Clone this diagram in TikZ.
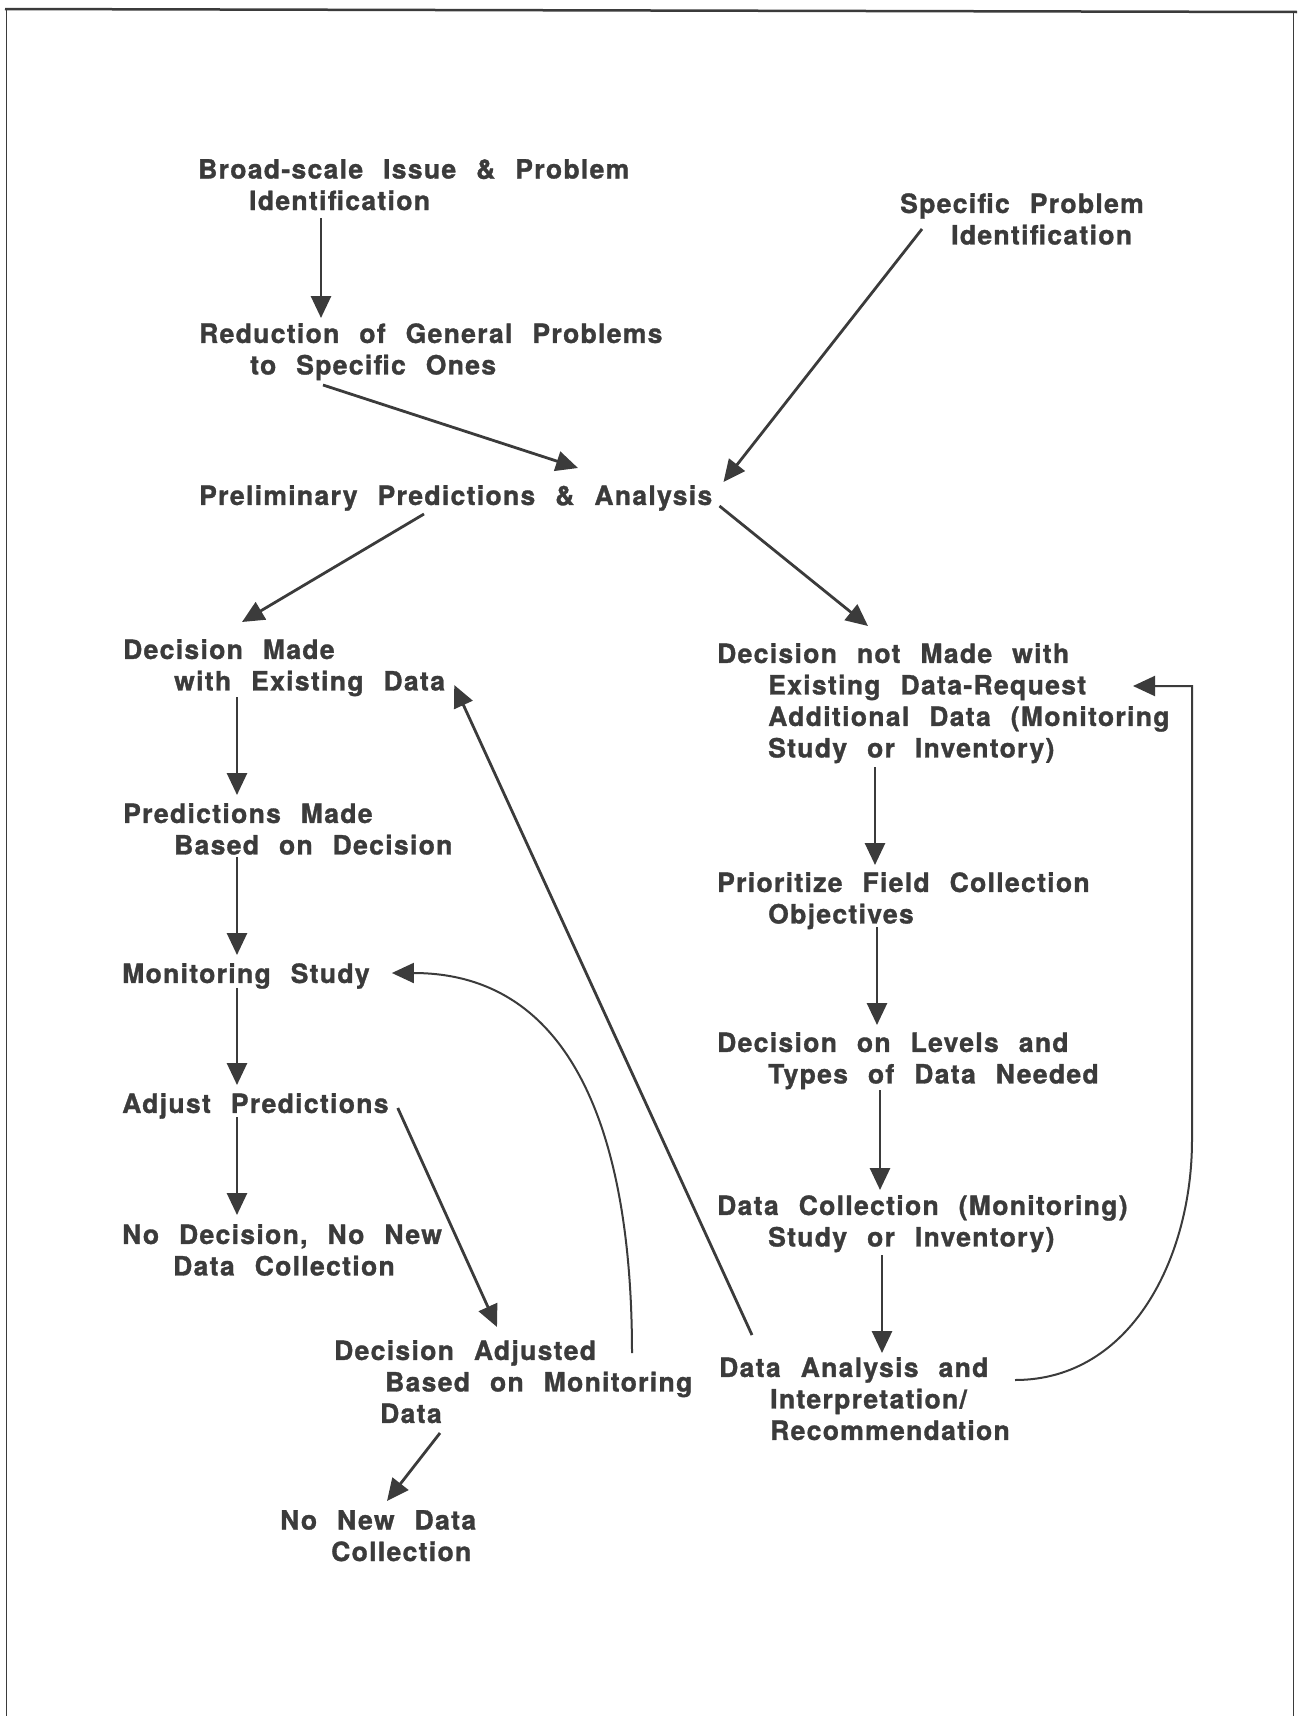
\documentclass[tikz,border=0pt]{standalone}
\usepackage{fontspec}
\setmainfont{TeX Gyre Heros}[LetterSpace=5, WordSpace=2.3, FakeBold=1.2]
\usetikzlibrary{arrows.meta}
\definecolor{ink}{HTML}{3B3B3B}
\newcommand{\lineind}{\hspace*{51pt}}

\begin{document}
\begin{tikzpicture}[x = 1pt, y = 1pt]
	\tikzstyle{stepText} = [anchor = north west, inner sep = 0pt, align = left, text = ink, font = \fontsize{26.5}{31.5}\selectfont\bfseries]
	\tikzstyle{arrowStyle} = [draw = ink, line width = 2.8pt, -{Triangle[length = 22pt, width = 20pt]}]
	\tikzstyle{curveStyle} = [arrowStyle, line width = 2pt]
	\useasboundingbox (0,0) rectangle (1306,-1716);
	% frame
	\draw[ink, line width = 2.5pt] (5,-9) -- (1297,-12);
	\draw[ink, line width = 1.8pt] (6.5,-9) -- (6.5,-1716);
	\draw[ink, line width = 1.8pt] (1293.5,-12) -- (1293.5,-1716);
	% steps
	\node[stepText] (bi) at (198,-159) {Broad-scale Issue \& Problem\\\lineind Identification};
	\node[stepText] (rg) at (199,-323) {Reduction of General Problems\\\lineind to Specific Ones};
	\node[stepText] (sp) at (900,-193) {Specific Problem\\\lineind Identification};
	\node[stepText] (pp) at (199,-485) {Preliminary Predictions \& Analysis};
	\node[stepText] (dm) at (123,-639) {Decision Made\\\lineind with Existing Data};
	\node[stepText] (dn) at (717,-643) {Decision not Made with\\\lineind Existing Data-Request\\\lineind Additional Data (Monitoring\\\lineind Study or Inventory)};
	\node[stepText] (pm) at (123,-803) {Predictions Made\\\lineind Based on Decision};
	\node[stepText] (pf) at (717,-872) {Prioritize Field Collection\\\lineind Objectives};
	\node[stepText] (ms) at (122,-963) {Monitoring Study};
	\node[stepText] (dl) at (717,-1032) {Decision on Levels and\\\lineind Types of Data Needed};
	\node[stepText] (ap) at (122,-1093) {Adjust Predictions};
	\node[stepText] (dc) at (717,-1195) {Data Collection (Monitoring)\\\lineind Study or Inventory)};
	\node[stepText] (nd) at (122,-1224) {No Decision, No New\\\lineind Data Collection};
	\node[stepText] (dj) at (334,-1340) {Decision Adjusted\\\lineind Based on Monitoring\\\hspace*{46pt}Data};
	\node[stepText] (da) at (719,-1357) {Data Analysis and\\\lineind Interpretation/\\\lineind Recommendation};
	\node[stepText] (nn) at (280,-1510) {No New Data\\\lineind Collection};
	% arrows, top part
	\draw[arrowStyle] ([xshift = 123pt, yshift = -59pt]bi.north west) -- ([xshift = 122pt, yshift = 5pt]rg.north west);
	\draw[arrowStyle] ([xshift = 124pt, yshift = -62pt]rg.north west) -- ([xshift = 379pt, yshift = 17pt]pp.north west);
	\draw[arrowStyle] ([xshift = 22pt, yshift = -36pt]sp.north west) -- ([xshift = 11pt, yshift = 3pt]pp.north east);
	\draw[arrowStyle] ([xshift = 225pt, yshift = -29pt]pp.north west) -- ([xshift = 119pt, yshift = 17pt]dm.north west);
	\draw[arrowStyle] ([xshift = 7pt, yshift = -21pt]pp.north east) -- ([xshift = 151pt, yshift = 17pt]dn.north west);
	% left column
	\draw[arrowStyle] ([xshift = 114pt, yshift = -58pt]dm.north west) -- ([xshift = 114pt, yshift = 8pt]pm.north west);
	\draw[arrowStyle] ([xshift = 114pt, yshift = -54pt]pm.north west) -- ([xshift = 115pt, yshift = 8pt]ms.north west);
	\draw[arrowStyle] ([xshift = 115pt, yshift = -25pt]ms.north west) -- ([xshift = 115pt, yshift = 8pt]ap.north west);
	\draw[arrowStyle] ([xshift = 115pt, yshift = -24pt]ap.north west) -- ([xshift = 115pt, yshift = 9pt]nd.north west);
	\draw[arrowStyle] ([xshift = 9pt, yshift = -15pt]ap.north east) -- ([xshift = 163pt, yshift = 13pt]dj.north west);
	\draw[arrowStyle] ([xshift = 106pt, yshift = -93pt]dj.north west) -- ([xshift = 107pt, yshift = 9pt]nn.north west);
	\draw[curveStyle] ([xshift = 298pt, yshift = -13pt]dj.north west) to[out = 90, in = 0, looseness = 1.1] ([xshift = 22pt, yshift = -10pt]ms.north east);
	% right column
	\draw[arrowStyle] ([xshift = 158pt, yshift = -124pt]dn.north west) -- ([xshift = 158pt, yshift = 7pt]pf.north west);
	\draw[arrowStyle] ([xshift = 160pt, yshift = -55pt]pf.north west) -- ([xshift = 160pt, yshift = 7pt]dl.north west);
	\draw[arrowStyle] ([xshift = 163pt, yshift = -58pt]dl.north west) -- ([xshift = 163pt, yshift = 5pt]dc.north west);
	\draw[arrowStyle] ([xshift = 165pt, yshift = -60pt]dc.north west) -- ([xshift = 163pt, yshift = 4pt]da.north west);
	\draw[arrowStyle] ([xshift = 33pt, yshift = 22pt]da.north west) -- ([xshift = 9pt, yshift = -46pt]dm.north east);
	\draw[curveStyle] ([xshift = 296pt, yshift = -23pt]da.north west) to[out = 0, in = -90] ([xshift = 475pt, yshift = -497pt]dn.north west) |- ([xshift = 416pt, yshift = -43pt]dn.north west);
\end{tikzpicture}
\end{document}
